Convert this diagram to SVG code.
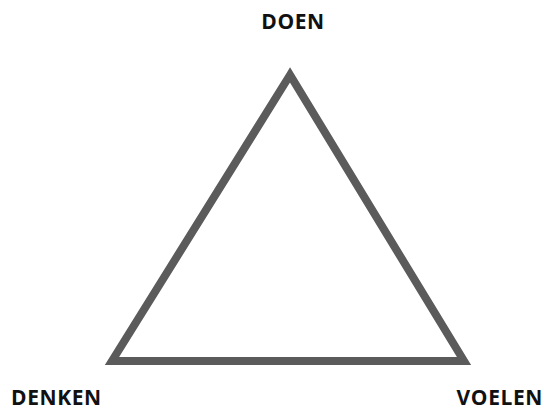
<svg xmlns="http://www.w3.org/2000/svg" width="544" height="410" viewBox="0 0 544 410">
<style>
.lbl{font-family:"Open Sans","Liberation Sans",sans-serif;font-weight:bold;font-size:21px;fill:#111;letter-spacing:0.6px}
.tri{fill:none;stroke:#5b5b5b;stroke-width:8;stroke-linejoin:miter}
</style>
<rect width="544" height="410" fill="#fff"/>
<g id="connectors">
<polygon class="tri" points="290,75 112,361 464,361"/>
</g>
<g id="doen"><text class="lbl" x="293" y="29" text-anchor="middle">DOEN</text></g>
<g id="denken"><text class="lbl" x="11" y="405">DENKEN</text></g>
<g id="voelen"><text class="lbl" x="543" y="405" text-anchor="end">VOELEN</text></g>
</svg>
